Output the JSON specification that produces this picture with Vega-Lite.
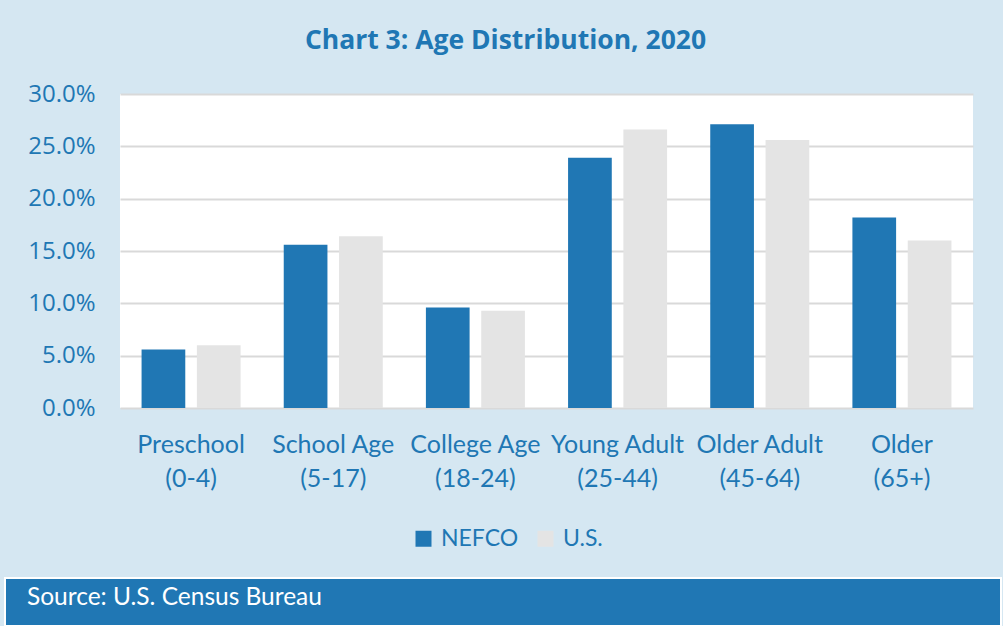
{
  "$schema": "https://vega.github.io/schema/vega-lite/v6.json",
  "background": "#D5E7F2",
  "padding": {"left": 4, "right": 3, "top": 27, "bottom": 0},
  "config": {"view": {"stroke": null}, "font": "Lato"},
  "spacing": 26,
  "resolve": {"legend": {"color": "independent"}},
  "vconcat": [
    {
      "spacing": 0,
      "resolve": {"legend": {"color": "independent"}},
      "hconcat": [
        {
          "width": 1,
          "height": 1,
          "data": {"values": []},
          "mark": {"type": "text"},
          "encoding": {}
        },
        {
          "width": 853,
          "height": 314,
          "title": {"text": "Chart 3: Age Distribution, 2020", "font": "Open Sans", "fontSize": 26.5, "fontWeight": "bold", "color": "#2077B4", "anchor": "middle", "frame": "group", "dx": -41, "offset": 28},
          "view": {"fill": "white", "stroke": null},
          "data": {"values": [
            {"group": "Preschool (0-4)", "area": "NEFCO", "share": 0.056},
            {"group": "Preschool (0-4)", "area": "U.S.", "share": 0.060},
            {"group": "School Age (5-17)", "area": "NEFCO", "share": 0.156},
            {"group": "School Age (5-17)", "area": "U.S.", "share": 0.164},
            {"group": "College Age (18-24)", "area": "NEFCO", "share": 0.096},
            {"group": "College Age (18-24)", "area": "U.S.", "share": 0.093},
            {"group": "Young Adult (25-44)", "area": "NEFCO", "share": 0.239},
            {"group": "Young Adult (25-44)", "area": "U.S.", "share": 0.266},
            {"group": "Older Adult (45-64)", "area": "NEFCO", "share": 0.271},
            {"group": "Older Adult (45-64)", "area": "U.S.", "share": 0.256},
            {"group": "Older (65+)", "area": "NEFCO", "share": 0.182},
            {"group": "Older (65+)", "area": "U.S.", "share": 0.160}
          ]},
          "mark": {"type": "bar"},
          "encoding": {
            "x": {
              "field": "group", "type": "nominal", "sort": null,
              "scale": {"paddingInner": 0, "paddingOuter": 0},
              "axis": {
                "title": null,
                "labelExpr": "[slice(datum.label, 0, indexof(datum.label, ' (')), slice(datum.label, indexof(datum.label, ' (') + 1)]",
                "labelFontSize": 25, "labelFont": "Lato", "labelColor": "#2077B4",
                "labelLineHeight": 34, "labelPadding": 24, "labelAngle": 0,
                "ticks": false, "domain": false, "grid": false
              }
            },
            "xOffset": {
              "field": "area", "type": "nominal", "sort": ["NEFCO", "U.S."],
              "scale": {"paddingInner": 0.21, "paddingOuter": 0.39}
            },
            "y": {
              "field": "share", "type": "quantitative",
              "scale": {"domain": [0, 0.3], "nice": false},
              "axis": {
                "title": null, "format": ".1%",
                "values": [0, 0.05, 0.1, 0.15, 0.2, 0.25, 0.3],
                "labelFontSize": 24, "labelFont": "Open Sans", "labelColor": "#2077B4",
                "labelPadding": 25, "ticks": false, "domain": false,
                "gridColor": "#D9D9D9", "gridWidth": 2, "minExtent": 114
              }
            },
            "color": {
              "field": "area", "type": "nominal",
              "scale": {"domain": ["NEFCO", "U.S."], "range": ["#2077B4", "#E4E4E4"]},
              "legend": {
                "title": null, "orient": "none", "legendX": 292, "legendY": 433,
                "direction": "horizontal", "symbolType": "square", "symbolSize": 256,
                "symbolStrokeWidth": 0, "labelFontSize": 23, "labelFont": "Lato",
                "labelColor": "#2077B4", "columnPadding": 15, "labelOffset": 6
              }
            }
          }
        }
      ]
    },
    {
      "width": 996,
      "height": 48,
      "view": {"fill": "#2077B4", "stroke": "white", "strokeWidth": 2},
      "data": {"values": [{"note": "Source: U.S. Census Bureau"}]},
      "mark": {"type": "text", "align": "left", "baseline": "middle", "dx": -476, "dy": -4, "font": "Lato", "fontSize": 24.5, "color": "white"},
      "encoding": {"text": {"field": "note", "type": "nominal"}}
    }
  ]
}
